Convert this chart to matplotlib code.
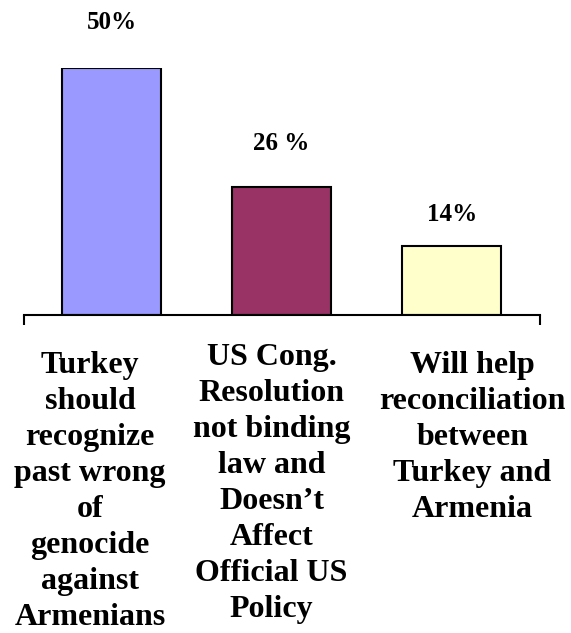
import matplotlib.pyplot as plt

categories = [
    "Turkey\nshould\nrecognize\npast wrong\nof\ngenocide\nagainst\nArmenians",
    "US Cong.\nResolution\nnot binding\nlaw and\nDoesn\u2019t\nAffect\nOfficial US\nPolicy",
    "Will help\nreconciliation\nbetween\nTurkey and\nArmenia",
]
values = [50, 26, 14]
value_labels = ["50%", "26 %", "14%"]
colors = ["#9999FF", "#993366", "#FFFFCC"]

plt.rcParams['font.family'] = ['Liberation Serif', 'DejaVu Serif']
plt.rcParams['font.weight'] = 'bold'

fig = plt.figure(figsize=(5.71, 6.33), dpi=100)
ax = fig.add_axes([0.042, 0.5024, 0.904, 0.3902])

x = list(range(len(values)))
ax.bar(x, values, width=0.582, color=colors, edgecolor="black", linewidth=1.5, zorder=2)
ax.set_xlim(-0.515, 2.52)
ax.set_ylim(0, 50)

for s in ["top", "right", "left"]:
    ax.spines[s].set_visible(False)
ax.spines["bottom"].set_linewidth(1.5)
ax.set_yticks([])
ax.set_xticks([-0.515, 2.52])
ax.set_xticklabels(["", ""])
ax.tick_params(axis="x", direction="out", length=7, width=1.5)

# value labels above bars (placed individually like the original)
label_gap = [9.3, 8.7, 6.3]
for xi, v, lab, g in zip(x, values, value_labels, label_gap):
    ax.text(xi, v + g, lab, ha="center", va="center", fontsize=18,
            fontweight="bold", clip_on=False)

# category labels below the axis
label_x = [-0.126, 0.94, 2.122]
label_y = [-7.3, -5.7, -7.3]
for lx, ly, cat in zip(label_x, label_y, categories):
    ax.text(lx, ly, cat, ha="center", va="top", fontsize=23,
            fontweight="bold", linespacing=1.32, clip_on=False)

fig.savefig("out.png", dpi=100)
